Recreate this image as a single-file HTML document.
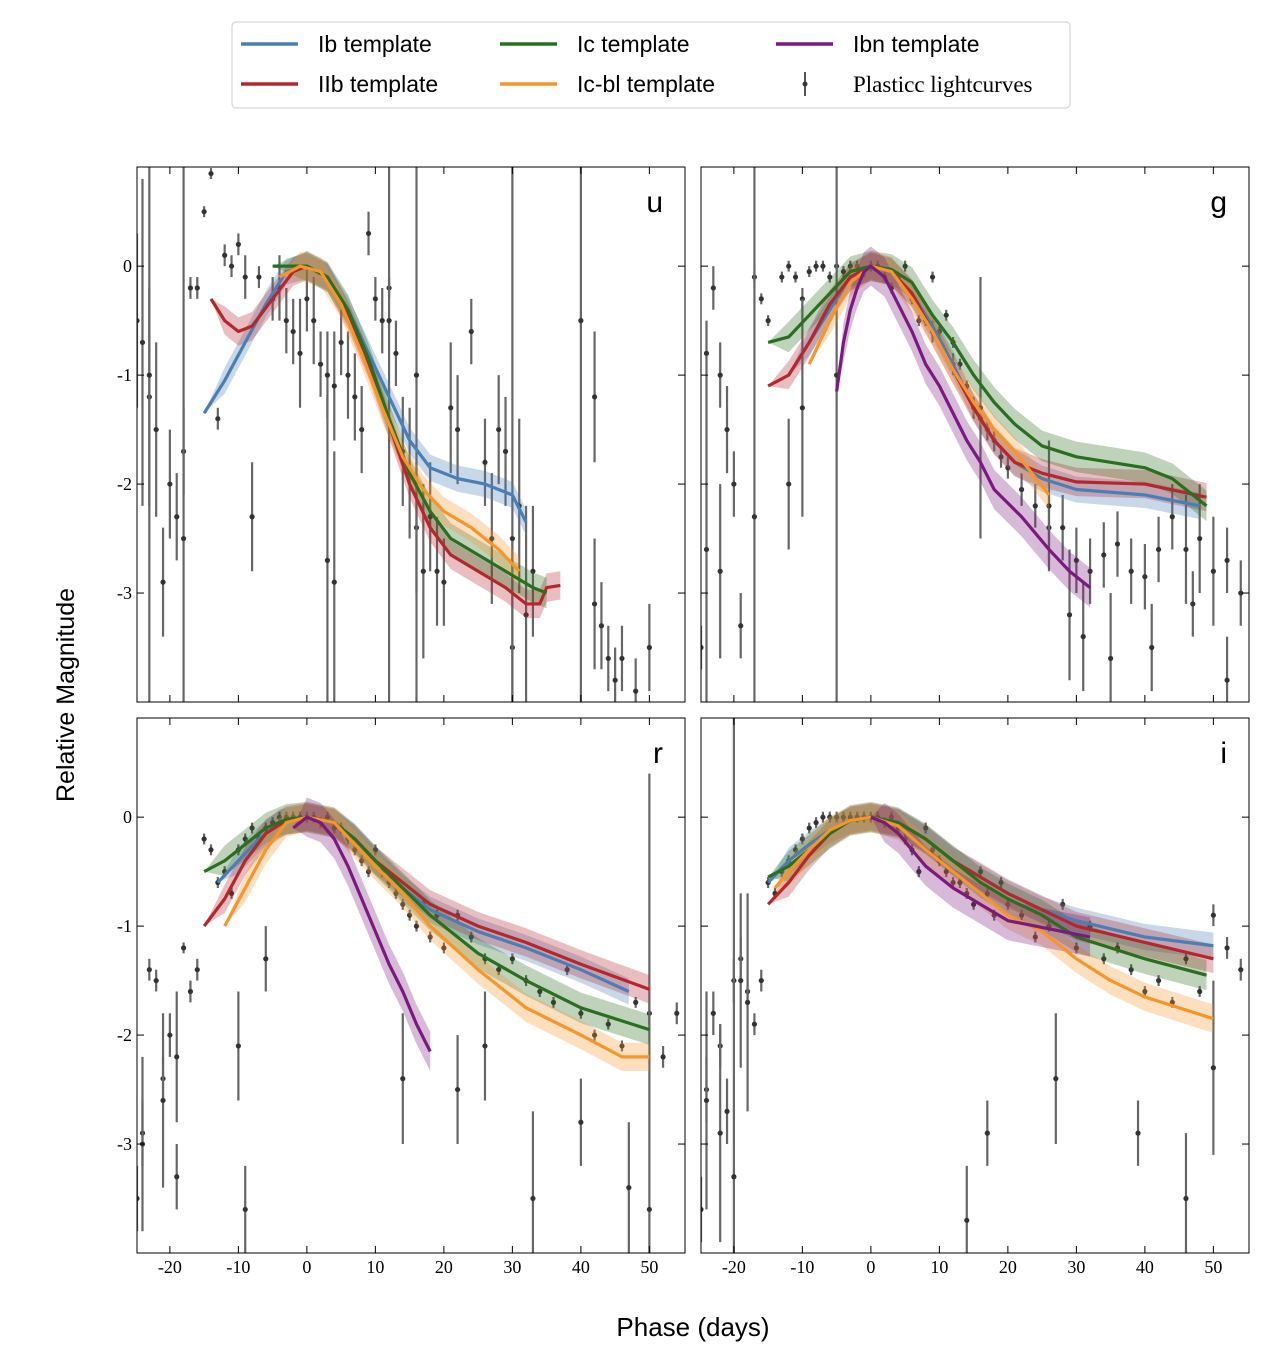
<!DOCTYPE html>
<html><head><meta charset="utf-8"><style>
html,body{margin:0;background:#fff;width:1262px;height:1350px;overflow:hidden;}
svg{display:block;}
text{font-family:"Liberation Sans",sans-serif;}
.tk{font-family:"Liberation Serif",serif;font-size:18px;fill:#000;}
</style></head><body>
<svg id="chart" width="1262" height="1350" viewBox="0 0 1262 1350" xmlns="http://www.w3.org/2000/svg">
<g>
<rect x="232" y="22" width="838" height="86" rx="4" fill="#fff" stroke="#ccc"/>
<g><line x1="241" y1="44" x2="298" y2="44" stroke="#4a7fb5" stroke-width="3.5"/><text x="318" y="52" font-size="23">Ib template</text></g>
<g><line x1="500" y1="44" x2="557" y2="44" stroke="#2a6e1f" stroke-width="3.5"/><text x="577" y="52" font-size="23">Ic template</text></g>
<g><line x1="776" y1="44" x2="833" y2="44" stroke="#7a1a7e" stroke-width="3.5"/><text x="853" y="52" font-size="23">Ibn template</text></g>
<g><line x1="241" y1="84" x2="298" y2="84" stroke="#b5272d" stroke-width="3.5"/><text x="318" y="92" font-size="23">IIb template</text></g>
<g><line x1="500" y1="84" x2="557" y2="84" stroke="#f5952a" stroke-width="3.5"/><text x="577" y="92" font-size="23">Ic-bl template</text></g>
<g><line x1="805" y1="72" x2="805" y2="96" stroke="#555" stroke-width="2"/><circle cx="805" cy="84" r="2.5" fill="#333"/><text x="853" y="92" font-size="23" style="font-family:'Liberation Serif',serif">Plasticc lightcurves</text></g>
</g>
<text x="74" y="695" font-size="25" text-anchor="middle" transform="rotate(-90 74 695)">Relative Magnitude</text>
<text x="693" y="1336" font-size="26" text-anchor="middle">Phase (days)</text>
<g id="panels"></g>
</svg>
<script>
const xTicks=[-20,-10,0,10,20,30,40,50];
const yTicks=[0,-1,-2,-3];
const templateNames=['Ib','IIb','Ic','Icbl','Ibn'];
const colors={Ib:'#4a7fb5',IIb:'#b5272d',Ic:'#2a6e1f',Icbl:'#f5952a',Ibn:'#7a1a7e'};
// u band
const uIbPhase=[-15,-12,-9,-6,-3,0,3,6,9,12,15,18,22,26,30,32];
const uIbMag=[-1.35,-1.05,-0.7,-0.35,-0.05,0,-0.1,-0.4,-0.8,-1.2,-1.6,-1.85,-1.95,-2.0,-2.1,-2.35];
const uIIbPhase=[-14,-12,-10,-8,-5,-2,0,3,6,9,12,15,18,21,25,29,32,34,35,37];
const uIIbMag=[-0.3,-0.5,-0.6,-0.55,-0.3,-0.05,0,-0.1,-0.45,-0.9,-1.45,-2.0,-2.4,-2.65,-2.8,-2.95,-3.1,-3.1,-2.95,-2.93];
const uIcPhase=[-5,0,3,6,9,12,15,18,21,25,29,33,35];
const uIcMag=[0,0,-0.1,-0.4,-0.85,-1.4,-1.9,-2.25,-2.5,-2.65,-2.8,-2.95,-3.0];
const uIcblPhase=[-4,-1,2,5,8,11,14,17,20,24,28,31];
const uIcblMag=[-0.1,0,-0.05,-0.35,-0.8,-1.3,-1.75,-2.05,-2.25,-2.4,-2.6,-2.8];
// g band
const gIbPhase=[-12,-9,-6,-3,0,3,6,9,12,15,18,21,25,30,40,48];
const gIbMag=[-1.0,-0.7,-0.4,-0.1,0,-0.05,-0.25,-0.55,-0.9,-1.3,-1.6,-1.8,-1.95,-2.05,-2.1,-2.2];
const gIIbPhase=[-15,-12,-9,-6,-3,0,3,6,9,12,15,18,21,25,30,40,49];
const gIIbMag=[-1.1,-1.0,-0.7,-0.35,-0.1,0,-0.05,-0.25,-0.6,-0.95,-1.3,-1.6,-1.8,-1.9,-1.98,-2.0,-2.12];
const gIcPhase=[-15,-12,-9,-6,-3,0,3,6,9,12,15,18,21,25,30,35,40,44,49];
const gIcMag=[-0.7,-0.65,-0.45,-0.25,-0.05,0,-0.03,-0.15,-0.45,-0.7,-1.0,-1.25,-1.45,-1.65,-1.75,-1.8,-1.85,-1.95,-2.2];
const gIcblPhase=[-9,-6,-3,0,3,6,9,12,15,18,21,26];
const gIcblMag=[-0.9,-0.5,-0.15,0,-0.05,-0.3,-0.6,-0.95,-1.25,-1.5,-1.7,-2.1];
const gIbnPhase=[-5,-4,-3,-2,-1,0,2,4,6,8,10,12,14,16,18,22,26,29,32];
const gIbnMag=[-1.15,-0.7,-0.4,-0.2,-0.05,0,-0.1,-0.35,-0.6,-0.9,-1.1,-1.35,-1.6,-1.8,-2.05,-2.3,-2.6,-2.8,-2.95];
// r band
const rIbPhase=[-13,-10,-7,-4,0,4,7,10,14,18,25,32,40,47];
const rIbMag=[-0.6,-0.4,-0.2,-0.05,0,-0.05,-0.2,-0.4,-0.65,-0.85,-1.05,-1.2,-1.4,-1.6];
const rIIbPhase=[-15,-12,-9,-6,-3,0,4,7,10,14,18,25,32,40,50];
const rIIbMag=[-1.0,-0.75,-0.4,-0.15,-0.03,0,-0.05,-0.2,-0.4,-0.6,-0.8,-1.0,-1.15,-1.35,-1.58];
const rIcPhase=[-15,-12,-9,-6,-3,0,4,7,10,14,18,25,32,40,50];
const rIcMag=[-0.5,-0.4,-0.25,-0.1,-0.02,0,-0.05,-0.2,-0.4,-0.65,-0.9,-1.25,-1.5,-1.75,-1.95];
const rIcblPhase=[-12,-9,-6,-3,0,4,7,10,14,18,25,32,40,46,50];
const rIcblMag=[-1.0,-0.65,-0.3,-0.05,0,-0.05,-0.25,-0.45,-0.7,-1.0,-1.4,-1.75,-2.0,-2.2,-2.2];
const rIbnPhase=[-2,0,2,4,6,8,10,12,14,16,18];
const rIbnMag=[-0.1,0,-0.05,-0.2,-0.45,-0.75,-1.05,-1.35,-1.6,-1.9,-2.15];
// i band
const iIbPhase=[-15,-12,-9,-6,-3,0,4,8,12,16,20,25,30,40,50];
const iIbMag=[-0.6,-0.4,-0.25,-0.12,-0.03,0,-0.05,-0.2,-0.4,-0.55,-0.7,-0.85,-0.95,-1.1,-1.18];
const iIIbPhase=[-15,-12,-9,-6,-3,0,4,8,12,16,20,25,30,40,50];
const iIIbMag=[-0.8,-0.6,-0.35,-0.15,-0.03,0,-0.05,-0.2,-0.4,-0.55,-0.7,-0.85,-1.0,-1.15,-1.3];
const iIcPhase=[-15,-12,-9,-6,-3,0,4,8,12,16,20,25,30,40,49];
const iIcMag=[-0.55,-0.45,-0.3,-0.15,-0.03,0,-0.05,-0.2,-0.4,-0.6,-0.75,-0.9,-1.1,-1.3,-1.45];
const iIcblPhase=[-14,-12,-9,-6,-3,0,4,8,12,16,20,25,30,35,40,50];
const iIcblMag=[-0.65,-0.5,-0.3,-0.12,-0.03,0,-0.08,-0.3,-0.5,-0.7,-0.9,-1.05,-1.3,-1.5,-1.65,-1.85];
const iIbnPhase=[0,2,4,6,8,12,16,20,24,28,32];
const iIbnMag=[0,-0.05,-0.15,-0.3,-0.45,-0.65,-0.8,-0.95,-1.0,-1.05,-1.1];
// band half-widths
const bandWidth={Ib:0.12,IIb:0.13,Ic:0.14,Icbl:0.13,Ibn:0.18};
// observed points: phase, mag, err
const uObsPhase=[-25,-24,-23,-22,-21,-20,-19,-18,-17,-16,-15,-14,-13,-12,-11,-10,-9,-8,-7,-5,-4,-3,-2,-1,0,1,2,3,4,5,6,7,8,3,4,9,10,11,12,13,14,15,16,17,18,19,20,21,22,24,26,27,28,29,30,31,32,33,42,43,44,45,46,48,50,42,-23,-18,12,16,30,40];
const uObsMag=[-0.5,-0.7,-1.2,-1.5,-2.9,-2.0,-2.3,-1.7,-0.2,-0.2,0.5,0.85,-1.4,0.1,0.0,0.2,-0.1,-2.3,-0.1,-0.3,-0.2,-0.5,-0.6,-0.8,-0.3,-0.5,-0.9,-1.0,-1.1,-0.7,-1.0,-1.2,-1.5,-2.7,-2.9,0.3,-0.3,-0.5,-0.2,-0.8,-1.7,-1.9,-2.4,-2.8,-2.3,-2.8,-2.9,-1.3,-1.5,-0.6,-1.8,-2.5,-1.5,-1.7,-3.5,-2.2,-3.2,-2.8,-3.1,-3.3,-3.6,-3.8,-3.6,-3.9,-3.5,-1.2,-1.0,-2.5,-0.5,-1.0,-2.5,-0.5];
const uObsErr=[0.8,1.5,1.0,0.8,0.5,0.5,0.4,0.4,0.1,0.1,0.05,0.05,0.1,0.1,0.1,0.1,0.2,0.5,0.1,0.2,0.3,0.3,0.3,0.5,0.3,0.4,0.3,0.4,0.5,0.3,0.4,0.4,0.4,1.5,1.2,0.2,0.2,0.3,0.1,0.3,0.5,0.6,0.6,0.8,0.5,0.5,0.4,0.6,0.5,0.3,0.4,0.6,0.5,0.5,1.0,0.8,1.0,0.6,0.6,0.4,0.3,0.3,0.3,0.3,0.4,0.6,5,5,5,4,5,5];
const gObsPhase=[-25,-24,-23,-22,-21,-20,-19,-17,-16,-15,-13,-12,-11,-10,-9,-8,-7,-6,-5,-4,-3,-2,-1,0,1,2,3,4,5,6,7,8,9,10,11,12,13,14,15,16,17,18,19,20,22,24,26,28,30,32,34,36,38,40,42,44,46,48,50,52,54,-24,-22,-17,-12,-10,-5,9,12,16,26,29,31,35,41,47,52];
const gObsMag=[-3.5,-0.8,-0.2,-1.0,-1.5,-2.0,-3.3,-0.1,-0.3,-0.5,-0.1,0,-0.1,-0.3,-0.05,0,0,-0.1,0,-0.05,0,0,-0.05,0,0,-0.1,-0.2,-0.1,0,-0.3,-0.5,-0.5,-0.1,-0.6,-0.45,-0.7,-0.9,-1.1,-1.3,-1.4,-1.5,-1.6,-1.75,-1.85,-2.05,-2.2,-2.4,-2.4,-2.7,-2.8,-2.65,-2.55,-2.8,-2.85,-2.6,-2.3,-2.6,-2.5,-2.8,-2.7,-3.0,-2.6,-2.8,-2.3,-2.0,-1.3,-1.0,-0.6,-0.9,-1.3,-2.2,-3.2,-3.4,-3.6,-3.5,-3.1,-3.8];
const gObsErr=[0.2,0.3,0.2,0.3,0.4,0.3,0.3,0.05,0.05,0.05,0.05,0.05,0.05,0.1,0.05,0.05,0.05,0.05,0.05,0.05,0.05,0.05,0.05,0.05,0.05,0.05,0.05,0.05,0.05,0.05,0.05,0.05,0.05,0.05,0.05,0.05,0.05,0.05,0.1,0.1,0.1,0.1,0.1,0.1,0.15,0.2,0.3,0.3,0.3,0.3,0.3,0.3,0.3,0.3,0.3,0.3,0.5,0.5,0.5,0.3,0.3,1.5,0.8,4,0.6,1.0,4,0.1,0.1,1.2,0.6,0.6,0.5,0.6,0.4,0.3,0.4];
const rObsPhase=[-25,-24,-23,-22,-21,-20,-19,-18,-17,-16,-15,-14,-13,-12,-11,-10,-9,-8,-7,-6,-5,-4,-3,-2,-1,0,1,2,3,4,5,6,7,8,9,10,11,12,13,14,15,16,17,18,19,20,22,24,26,28,30,32,34,36,38,40,42,44,46,48,50,52,54,-24,-21,-19,-10,-9,-6,14,22,26,33,40,47,50];
const rObsMag=[-3.5,-2.9,-1.4,-1.5,-2.4,-2.0,-3.3,-1.2,-1.6,-1.4,-0.2,-0.3,-0.6,-0.5,-0.7,-0.3,-0.2,-0.1,-0.2,-0.1,-0.05,0,0,0,0,0,0,-0.05,0,-0.1,-0.1,-0.2,-0.3,-0.4,-0.5,-0.3,-0.5,-0.6,-0.7,-0.8,-0.9,-1.0,-0.8,-1.1,-0.9,-1.2,-0.9,-1.1,-1.3,-1.4,-1.3,-1.5,-1.6,-1.7,-1.4,-1.8,-2.0,-1.9,-2.1,-1.7,-1.8,-2.2,-1.8,-3.0,-2.6,-2.2,-2.1,-3.6,-1.3,-2.4,-2.5,-2.1,-3.5,-2.8,-3.4,-3.6];
const rObsErr=[0.3,0.3,0.1,0.1,0.2,0.2,0.3,0.05,0.1,0.1,0.05,0.05,0.05,0.05,0.05,0.05,0.05,0.05,0.05,0.05,0.05,0.05,0.05,0.05,0.05,0.05,0.05,0.05,0.05,0.05,0.05,0.05,0.05,0.05,0.05,0.05,0.05,0.05,0.05,0.05,0.05,0.05,0.05,0.05,0.05,0.05,0.05,0.05,0.05,0.05,0.05,0.05,0.05,0.05,0.05,0.05,0.05,0.05,0.05,0.05,0.1,0.1,0.1,0.8,0.8,0.6,0.5,0.4,0.3,0.6,0.5,0.5,0.8,0.4,0.6,4];
const iObsPhase=[-25,-24,-23,-22,-21,-20,-19,-18,-17,-16,-15,-14,-13,-12,-11,-10,-9,-8,-7,-6,-5,-4,-3,-2,-1,0,1,2,3,4,5,6,7,8,9,10,11,12,13,14,15,16,17,18,19,20,22,24,26,28,30,32,34,36,38,40,42,44,46,48,50,52,54,-24,-22,-20,-19,14,17,27,39,46,50,-18];
const iObsMag=[-3.6,-2.5,-1.8,-2.1,-2.7,-1.5,-1.3,-1.6,-1.9,-1.5,-0.6,-0.7,-0.5,-0.4,-0.3,-0.2,-0.1,-0.05,0,0,0,0,0,0,0,0,0,-0.05,0,-0.1,-0.2,-0.3,-0.5,-0.1,-0.3,-0.4,-0.5,-0.6,-0.6,-0.7,-0.8,-0.5,-0.7,-0.9,-0.6,-0.8,-0.9,-1.1,-1.0,-0.8,-1.2,-1.0,-1.3,-1.2,-1.4,-1.6,-1.5,-1.7,-1.3,-1.6,-0.9,-1.2,-1.4,-2.6,-2.9,-3.3,-1.5,-3.7,-2.9,-2.4,-2.9,-3.5,-2.3,-1.7];
const iObsErr=[0.3,0.3,0.2,0.2,0.3,0.2,0.2,0.1,0.1,0.1,0.05,0.05,0.05,0.05,0.05,0.05,0.05,0.05,0.05,0.05,0.05,0.05,0.05,0.05,0.05,0.05,0.05,0.05,0.05,0.05,0.05,0.05,0.05,0.05,0.05,0.05,0.05,0.05,0.05,0.05,0.05,0.05,0.05,0.05,0.05,0.05,0.05,0.05,0.05,0.05,0.05,0.05,0.05,0.05,0.05,0.05,0.05,0.05,0.05,0.05,0.1,0.1,0.1,1.0,1.0,5,0.8,0.5,0.3,0.6,0.3,0.6,0.8,1.0];

const NS='http://www.w3.org/2000/svg';
const root=document.getElementById('panels');
function mk(tag,attrs,parent){const e=document.createElementNS(NS,tag);for(const k in attrs)e.setAttribute(k,attrs[k]);parent.appendChild(e);return e;}
const panels=[
 {band:'u',x0:137,y0:167,left:true,bottom:false,curves:{Ib:[uIbPhase,uIbMag],IIb:[uIIbPhase,uIIbMag],Ic:[uIcPhase,uIcMag],Icbl:[uIcblPhase,uIcblMag]},obs:[uObsPhase,uObsMag,uObsErr]},
 {band:'g',x0:701,y0:167,left:false,bottom:false,curves:{Ib:[gIbPhase,gIbMag],IIb:[gIIbPhase,gIIbMag],Ic:[gIcPhase,gIcMag],Icbl:[gIcblPhase,gIcblMag],Ibn:[gIbnPhase,gIbnMag]},obs:[gObsPhase,gObsMag,gObsErr]},
 {band:'r',x0:137,y0:718,left:true,bottom:true,curves:{Ib:[rIbPhase,rIbMag],IIb:[rIIbPhase,rIIbMag],Ic:[rIcPhase,rIcMag],Icbl:[rIcblPhase,rIcblMag],Ibn:[rIbnPhase,rIbnMag]},obs:[rObsPhase,rObsMag,rObsErr]},
 {band:'i',x0:701,y0:718,left:false,bottom:true,curves:{Ib:[iIbPhase,iIbMag],IIb:[iIIbPhase,iIIbMag],Ic:[iIcPhase,iIcMag],Icbl:[iIcblPhase,iIcblMag],Ibn:[iIbnPhase,iIbnMag]},obs:[iObsPhase,iObsMag,iObsErr]}
];
const W=548,H=535,XMIN=-24.8,XMAX=55.2,YMIN=-4.0,YMAX=0.91;
panels.forEach(p=>{
 const X=v=>Math.min(p.x0+W,Math.max(p.x0,p.x0+(v-XMIN)/(XMAX-XMIN)*W));
 const Y=v=>Math.min(p.y0+H,Math.max(p.y0,p.y0+(YMAX-v)/(YMAX-YMIN)*H));
 const g=mk('g',{},root);
 
 
 const cid='clip'+p.band;
 const cp=mk('clipPath',{id:cid},g);mk('rect',{x:p.x0,y:p.y0,width:W,height:H},cp);
 const inner=mk('g',{'clip-path':'url(#'+cid+')'},g);
 const og=mk('g',{},inner);
 
 
 const [ph,mg,er]=p.obs;
 ph.forEach((t,i)=>{
  const l=mk('line',{x1:X(t),x2:X(t),y1:Y(mg[i]+er[i]),y2:Y(mg[i]-er[i]),stroke:'#666','stroke-width':2.2},og);
  
  
  const c=mk('circle',{cx:X(t),cy:Y(mg[i]),r:2.6,fill:'#333'},og);
  
  
 });
 templateNames.forEach(n=>{
  if(!p.curves[n])return;
  const [xs,ys]=p.curves[n];const w=bandWidth[n];
  let d='M'+xs.map((t,i)=>X(t)+','+Y(ys[i]+(i===0?0:w))).join('L');
  d+='L'+xs.map((t,i)=>X(t)+','+Y(ys[i]-(i===0?0:w))).reverse().join('L')+'Z';
  const b=mk('path',{d:d,fill:colors[n],'fill-opacity':0.3,stroke:'none'},inner);
  
  
 });
 templateNames.forEach(n=>{
  if(!p.curves[n])return;
  const [xs,ys]=p.curves[n];
  const l=mk('polyline',{points:xs.map((t,i)=>X(t)+','+Y(ys[i])).join(' '),fill:'none',stroke:colors[n],'stroke-width':3.2,'stroke-linejoin':'round'},inner);
  
  
 });
 const fr=mk('rect',{x:p.x0,y:p.y0,width:W,height:H,fill:'none',stroke:'#000','stroke-width':1},g);
 
 
 xTicks.forEach(t=>{
  const x=X(t);
  mk('line',{x1:x,x2:x,y1:p.y0+H,y2:p.y0+H-7,stroke:'#000'},g);
  mk('line',{x1:x,x2:x,y1:p.y0,y2:p.y0+7,stroke:'#000'},g);
  if(p.bottom){const tx=mk('text',{x:x,y:p.y0+H+20,'text-anchor':'middle',class:'tk'},g);tx.textContent=t;
   
   }
 });
 yTicks.forEach(t=>{
  const y=Y(t);
  mk('line',{x1:p.x0,x2:p.x0+7,y1:y,y2:y,stroke:'#000'},g);
  mk('line',{x1:p.x0+W,x2:p.x0+W-7,y1:y,y2:y,stroke:'#000'},g);
  if(p.left){const tx=mk('text',{x:p.x0-5,y:y+6,'text-anchor':'end',class:'tk'},g);tx.textContent=t;
   
   }
 });
 const bl=mk('text',{x:p.x0+W-22,y:p.y0+45,'text-anchor':'end','font-size':30},g);
 bl.textContent=p.band;
 
 
});
</script>
</body></html>
